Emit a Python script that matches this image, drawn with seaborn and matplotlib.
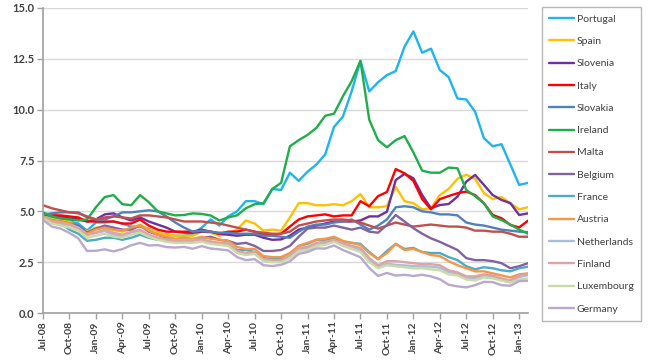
import numpy as np
import pandas as pd
import matplotlib
matplotlib.use("Agg")
import matplotlib.pyplot as plt
import seaborn as sns

months = ["Jul-08","Aug-08","Sep-08","Oct-08","Nov-08","Dec-08",
          "Jan-09","Feb-09","Mar-09","Apr-09","May-09","Jun-09","Jul-09","Aug-09","Sep-09","Oct-09","Nov-09","Dec-09",
          "Jan-10","Feb-10","Mar-10","Apr-10","May-10","Jun-10","Jul-10","Aug-10","Sep-10","Oct-10","Nov-10","Dec-10",
          "Jan-11","Feb-11","Mar-11","Apr-11","May-11","Jun-11","Jul-11","Aug-11","Sep-11","Oct-11","Nov-11","Dec-11",
          "Jan-12","Feb-12","Mar-12","Apr-12","May-12","Jun-12","Jul-12","Aug-12","Sep-12","Oct-12","Nov-12","Dec-12",
          "Jan-13","Feb-13"]

portugal = [4.85,4.7,4.65,4.5,4.4,4.05,4.45,4.45,4.5,4.4,4.25,4.25,4.15,3.95,3.85,3.8,3.8,3.9,
            4.2,4.6,4.3,4.75,5.0,5.5,5.5,5.35,6.1,6.05,6.9,6.5,
            6.95,7.3,7.8,9.15,9.65,10.9,12.4,10.9,11.35,11.7,11.9,13.1,
            13.85,12.8,13.0,11.95,11.6,10.55,10.5,9.9,8.6,8.2,8.3,7.3,6.3,6.4]
spain = [4.8,4.6,4.6,4.5,4.2,4.0,4.2,4.2,4.1,4.0,4.15,4.35,4.1,3.95,3.85,3.8,3.8,3.8,
         4.0,3.95,3.8,3.9,4.1,4.55,4.4,4.05,4.1,4.05,4.7,5.4,
         5.4,5.3,5.3,5.35,5.3,5.5,5.85,5.2,5.2,5.25,6.2,5.5,
         5.4,5.1,5.15,5.8,6.1,6.6,6.8,6.6,5.9,5.6,5.7,5.4,5.1,5.2]
slovenia = [4.85,4.8,4.75,4.65,4.6,4.5,4.6,4.85,4.9,4.7,4.55,4.7,4.5,4.35,4.2,4.0,3.95,3.95,
            4.0,4.0,3.9,3.85,3.8,3.85,3.85,3.7,3.6,3.62,3.8,4.1,
            4.2,4.3,4.4,4.5,4.5,4.5,4.55,4.75,4.75,4.98,6.54,6.84,
            6.63,5.8,5.15,5.31,5.36,5.72,6.46,6.79,6.3,5.8,5.56,5.4,4.82,4.9]
italy = [4.9,4.8,4.8,4.75,4.7,4.5,4.5,4.5,4.5,4.4,4.4,4.6,4.3,4.1,4.0,4.0,4.0,4.0,
         4.1,4.0,3.9,4.0,4.0,4.1,4.0,3.85,3.85,3.9,4.25,4.6,
         4.75,4.8,4.85,4.75,4.8,4.8,5.5,5.25,5.75,5.95,7.08,6.87,
         6.5,5.6,5.1,5.6,5.75,5.89,5.97,5.8,5.4,4.82,4.66,4.33,4.21,4.54]
slovakia = [4.85,4.9,4.95,4.95,4.95,4.7,4.6,4.6,4.75,4.95,4.95,5.0,5.05,5.0,4.75,4.45,4.2,4.0,
            4.05,4.0,3.95,3.95,3.9,3.9,3.9,3.8,3.8,3.75,3.7,4.0,
            4.25,4.35,4.35,4.45,4.5,4.6,4.35,4.1,4.3,4.6,5.2,5.25,
            5.2,5.0,4.95,4.85,4.85,4.8,4.45,4.35,4.3,4.2,4.1,4.05,4.0,3.98]
ireland = [4.95,4.75,4.65,4.6,4.55,4.6,5.2,5.7,5.8,5.35,5.3,5.8,5.45,5.0,4.9,4.8,4.82,4.9,
           4.87,4.8,4.55,4.7,4.8,5.15,5.35,5.4,6.1,6.4,8.2,8.5,
           8.76,9.1,9.7,9.8,10.65,11.4,12.4,9.5,8.5,8.15,8.5,8.7,
           7.9,7.0,6.9,6.9,7.15,7.12,6.05,5.75,5.4,4.75,4.57,4.35,4.1,3.9]
malta = [5.3,5.15,5.05,4.95,4.9,4.75,4.6,4.7,4.75,4.7,4.65,4.8,4.8,4.75,4.7,4.6,4.5,4.5,
         4.5,4.45,4.4,4.3,4.2,4.1,4.0,3.95,3.9,3.9,4.0,4.3,
         4.4,4.5,4.55,4.6,4.6,4.55,4.45,4.3,4.15,4.3,4.45,4.35,
         4.25,4.3,4.35,4.3,4.25,4.25,4.2,4.05,4.05,4.0,4.0,3.9,3.75,3.75]
belgium = [4.75,4.55,4.5,4.4,4.3,3.95,4.15,4.3,4.2,4.1,4.1,4.3,4.0,3.85,3.7,3.6,3.6,3.6,
           3.7,3.75,3.6,3.55,3.4,3.45,3.3,3.05,3.05,3.1,3.3,3.75,
           4.15,4.2,4.2,4.3,4.2,4.1,4.2,4.0,3.95,4.33,4.82,4.5,
           4.17,3.9,3.67,3.5,3.3,3.1,2.7,2.6,2.6,2.55,2.45,2.2,2.3,2.45]
france = [4.6,4.45,4.4,4.1,3.9,3.55,3.6,3.7,3.7,3.6,3.7,3.85,3.7,3.6,3.6,3.55,3.6,3.6,
          3.6,3.5,3.4,3.4,3.1,3.1,3.0,2.7,2.65,2.65,2.9,3.3,
          3.4,3.6,3.6,3.7,3.5,3.45,3.4,3.0,2.65,3.05,3.4,3.15,
          3.2,3.0,2.95,2.95,2.75,2.6,2.3,2.15,2.25,2.2,2.1,2.05,2.2,2.28]
austria = [4.75,4.55,4.5,4.4,4.2,3.9,4.1,4.2,4.1,4.05,4.2,4.3,4.05,3.85,3.75,3.65,3.7,3.65,
           3.75,3.65,3.6,3.55,3.25,3.15,3.15,2.8,2.75,2.75,2.95,3.3,
           3.45,3.6,3.65,3.75,3.55,3.45,3.35,2.95,2.65,2.95,3.4,3.1,
           3.15,3.0,2.85,2.8,2.55,2.35,2.2,2.05,2.05,1.95,1.85,1.75,1.9,1.95]
netherlands = [4.71,4.47,4.39,4.33,4.2,3.84,3.94,4.03,3.85,3.76,3.96,4.05,3.82,3.7,3.61,3.58,3.6,3.59,
               3.62,3.52,3.44,3.42,3.04,2.93,2.95,2.58,2.59,2.57,2.78,3.12,
               3.17,3.4,3.44,3.58,3.39,3.26,3.11,2.59,2.25,2.43,2.37,2.34,
               2.31,2.29,2.28,2.23,2.01,1.93,1.7,1.72,1.85,1.8,1.61,1.51,1.77,1.86]
finland = [4.75,4.5,4.45,4.35,4.15,3.85,3.95,4.1,3.95,3.85,4.0,4.1,3.85,3.7,3.6,3.55,3.55,3.55,
           3.6,3.5,3.45,3.4,3.05,2.95,3.0,2.65,2.6,2.6,2.85,3.2,
           3.25,3.45,3.5,3.6,3.45,3.3,3.2,2.7,2.35,2.55,2.55,2.5,
           2.45,2.4,2.4,2.35,2.1,2.0,1.8,1.8,1.9,1.85,1.7,1.6,1.85,1.9]
luxembourg = [4.65,4.4,4.3,4.2,4.05,3.7,3.8,3.9,3.75,3.7,3.85,3.95,3.75,3.6,3.5,3.45,3.45,3.45,
              3.5,3.4,3.35,3.3,2.95,2.85,2.9,2.55,2.5,2.5,2.7,3.05,
              3.1,3.3,3.35,3.5,3.3,3.15,3.0,2.5,2.2,2.35,2.3,2.25,
              2.2,2.2,2.15,2.1,1.9,1.85,1.65,1.6,1.75,1.7,1.6,1.5,1.65,1.7]
germany = [4.57,4.25,4.15,3.94,3.67,3.05,3.06,3.13,3.03,3.14,3.33,3.45,3.32,3.34,3.24,3.22,3.25,3.16,
           3.29,3.17,3.13,3.08,2.75,2.6,2.65,2.35,2.31,2.37,2.54,2.91,
           3.0,3.18,3.17,3.32,3.1,2.92,2.74,2.21,1.82,1.97,1.84,1.88,
           1.82,1.88,1.8,1.66,1.39,1.31,1.26,1.37,1.53,1.52,1.37,1.34,1.57,1.58]

countries = ["Portugal","Spain","Slovenia","Italy","Slovakia","Ireland","Malta","Belgium",
             "France","Austria","Netherlands","Finland","Luxembourg","Germany"]
series = [portugal, spain, slovenia, italy, slovakia, ireland, malta, belgium,
          france, austria, netherlands, finland, luxembourg, germany]
colors = ["#1eb4f0","#ffc000","#7030a0","#ff0000","#4f81bd","#1fae4a","#c0504d","#8064a2",
          "#4bacc6","#f79646","#a7bfdf","#dea3a2","#c9dca5","#b9a8cf"]

rows = []
for c, vals in zip(countries, series):
    for i, v in enumerate(vals):
        rows.append({"idx": i, "month": months[i], "country": c, "yield": v})
df = pd.DataFrame(rows)

sns.set_theme(style="white")
plt.rcParams['font.family'] = ['Lato', 'DejaVu Sans']

W, H = 650, 360
fig = plt.figure(figsize=(6.5, 3.6), dpi=100)
ax = fig.add_axes([43/W, 1-313/H, (528-43)/W, (313-8)/H])

sns.lineplot(data=df, x="idx", y="yield", hue="country", hue_order=countries,
             palette=dict(zip(countries, colors)), linewidth=1.7, ax=ax, legend=True)

ax.set_xlim(0, len(months)-1)
ax.set_ylim(0, 15)
ax.set_yticks(np.arange(0, 15.01, 2.5))
ax.set_yticklabels([f"{v:.1f}" for v in np.arange(0, 15.01, 2.5)], fontsize=8,
                   color="#404040", fontweight="bold")
tick_idx = list(range(0, len(months), 3))
ax.set_xticks(tick_idx)
ax.set_xticklabels([months[i] for i in tick_idx], rotation=90, fontsize=7.5,
                   color="#404040", fontweight="bold")
ax.set_xlabel("")
ax.set_ylabel("")
ax.grid(axis="y", color="#d9d9d9", linewidth=1.0)
ax.grid(axis="x", visible=False)
for s in ["top", "right"]:
    ax.spines[s].set_visible(False)
for s in ["left", "bottom"]:
    ax.spines[s].set_color("#a0a0a0")
    ax.spines[s].set_linewidth(1.2)
ax.tick_params(axis="both", which="major", length=4, width=1, color="#a0a0a0",
               direction="out", bottom=True, left=True, pad=2)

handles, labels = ax.get_legend_handles_labels()
ax.get_legend().remove()
leg = fig.legend(handles, labels, loc="upper left",
                 bbox_to_anchor=(542/W, 1-7/H), bbox_transform=fig.transFigure,
                 borderaxespad=0, frameon=True, fancybox=False, fontsize=7.5,
                 labelspacing=1.25, handlelength=2.4, handletextpad=0.25,
                 borderpad=0.7)
leg.get_frame().set_edgecolor("#a6a6a6")
leg.get_frame().set_linewidth(1.0)
for t in leg.get_texts():
    t.set_color("#404040")
for h in leg.legend_handles:
    h.set_linewidth(1.7)

fig.savefig("out.png", dpi=100, facecolor="white")
